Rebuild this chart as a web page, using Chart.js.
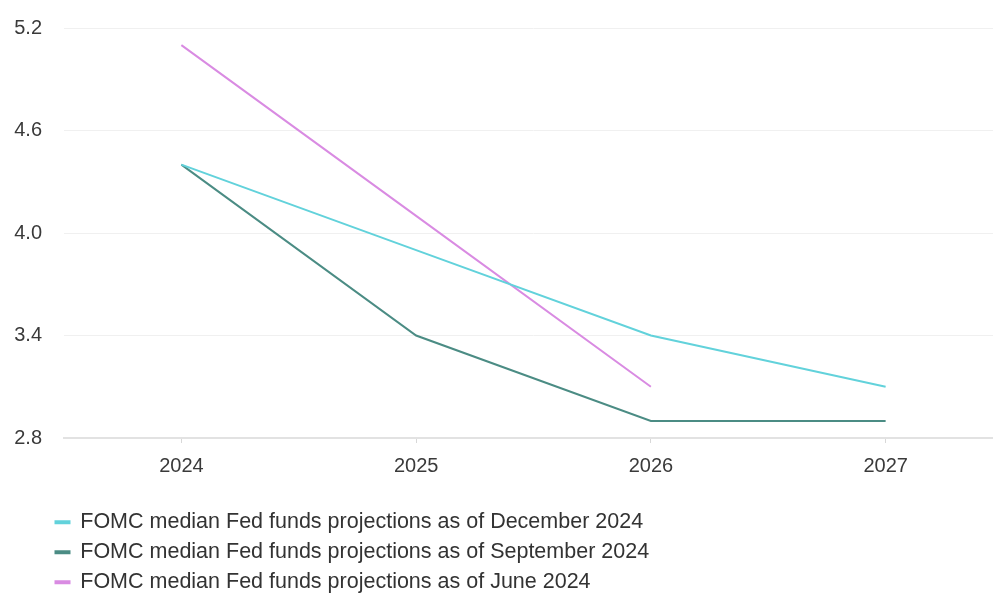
<!DOCTYPE html>
<html>
<head>
<meta charset="utf-8">
<script src="https://cdn.jsdelivr.net/npm/chart.js@4/dist/chart.umd.min.js"></script>
<style>
  html, body { margin: 0; padding: 0; background: #fff; overflow: hidden; }
  #wrap { width: 1003px; height: 595px; }
</style>
</head>
<body>
<div id="wrap"><canvas id="fomc_chart"></canvas></div>
<script>
// chart data
const years = ['2024', '2025', '2026', '2027'];
const dec2024 = [4.4, 3.9, 3.4, 3.1];
const sep2024 = [4.4, 3.4, 2.9, 2.9];
const jun2024 = [5.1, 4.1, 3.1, null];
const yTicks = [2.8, 3.4, 4.0, 4.6, 5.2];

const seriesNames = [
    'FOMC median Fed funds projections as of December 2024',
    'FOMC median Fed funds projections as of September 2024',
    'FOMC median Fed funds projections as of June 2024'
];

// nudge the legend block right / down so it sits like the original
const legendShift = {
    id: 'legendShift',
    afterLayout(chart) {
        const lg = chart.legend;
        if (!lg) return;
        lg.left += 47;
        lg.top += 14;
        lg.bottom += 14;
    }
};

Chart.defaults.font.family = '"Liberation Sans", Arial, sans-serif';
Chart.defaults.color = '#3a3a3a';

var ctx = document.getElementById('fomc_chart').getContext('2d');
new Chart(ctx, {
    type: 'line',
    data: {
        labels: years,
        datasets: [{
            label: seriesNames[0],
            data: dec2024,
            borderColor: '#62d2db',
            backgroundColor: '#62d2db',
            borderWidth: 2
        }, {
            label: seriesNames[1],
            data: sep2024,
            borderColor: '#4b8c84',
            backgroundColor: '#4b8c84',
            borderWidth: 2
        }, {
            label: seriesNames[2],
            data: jun2024,
            borderColor: '#d98be2',
            backgroundColor: '#d98be2',
            borderWidth: 2
        }]
    },
    plugins: [legendShift],
    options: {
        responsive: true,
        maintainAspectRatio: false,
        animation: false,
        elements: {
            point: { radius: 0 },
            line: { tension: 0 }
        },
        layout: {
            padding: { top: 28, right: 0, bottom: 6, left: 0 }
        },
        scales: {
            x: {
                offset: true,
                border: { display: true, color: '#e2e2e2', width: 2 },
                grid: { drawOnChartArea: false, color: '#d8d8d8', tickLength: 5 },
                ticks: { font: { size: 20 }, padding: 11, color: '#3a3a3a' }
            },
            y: {
                min: 2.8,
                max: 5.2,
                afterFit(scale) {
                    scale.width = 64;
                    scale.paddingTop = 0;
                    scale.paddingBottom = 0;
                },
                afterBuildTicks(scale) {
                    scale.ticks = yTicks.map(v => ({ value: v }));
                },
                border: { display: false },
                grid: { color: '#f0f0f0', drawTicks: false },
                ticks: {
                    font: { size: 20 },
                    padding: 22,
                    color: '#3a3a3a',
                    callback: v => Number(v).toFixed(1)
                }
            }
        },
        plugins: {
            legend: {
                position: 'bottom',
                align: 'start',
                labels: {
                    font: { size: 21.5 },
                    color: '#333',
                    boxWidth: 14,
                    boxHeight: 2,
                    padding: 8.5
                }
            },
            tooltip: { enabled: false }
        }
    }
});
</script>
</body>
</html>
